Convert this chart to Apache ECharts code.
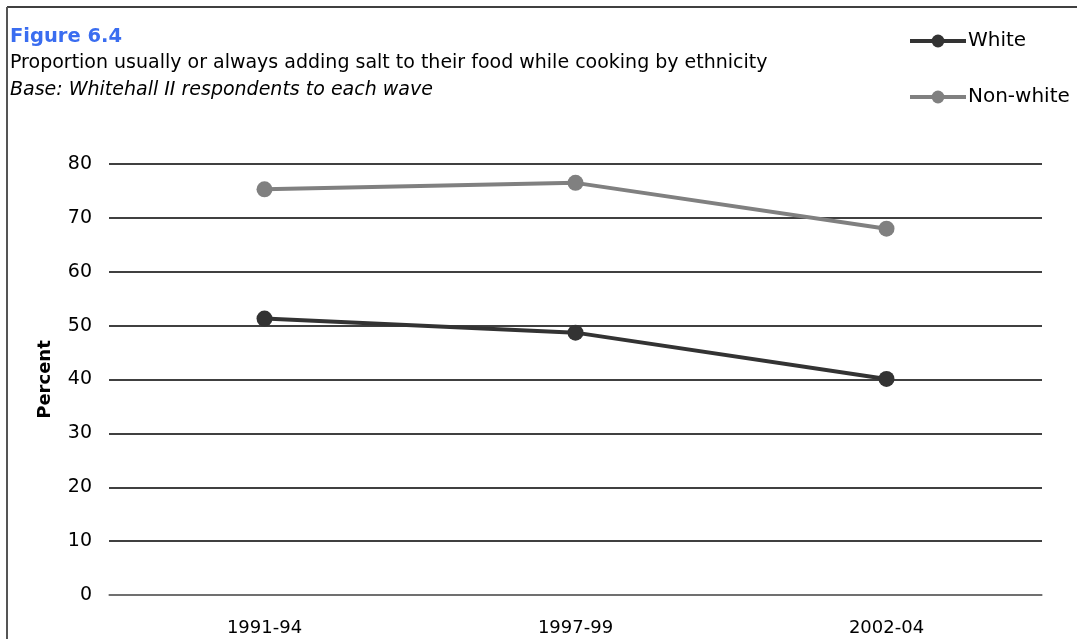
<!DOCTYPE html>
<html>
<head>
<meta charset="utf-8">
<script src="https://cdn.jsdelivr.net/npm/echarts@6/dist/echarts.min.js"></script>
<style>
  html, body { margin: 0; padding: 0; background: #fff; }
  #chart { width: 1077px; height: 639px; }
</style>
</head>
<body>
<div id="chart"></div>
<script>
// Survey waves and the share adding salt while cooking (%)
const waves = ['1991-94', '1997-99', '2002-04'];
const whiteValues = [51.3, 48.7, 40.1];
const nonWhiteValues = [75.3, 76.5, 68.0];
const yTicks = { min: 0, max: 80, step: 10 };

const FONT = 'DejaVu Sans';
const chart = echarts.init(document.getElementById('chart'), null, { renderer: 'canvas' });

chart.setOption({
  backgroundColor: '#ffffff',
  animation: false,
  textStyle: { fontFamily: FONT },
  graphic: [
    // frame edges
    { type: 'line', shape: { x1: 7, y1: 7, x2: 1077, y2: 7 }, style: { stroke: '#000', lineWidth: 1.5 } },
    { type: 'line', shape: { x1: 7, y1: 7, x2: 7, y2: 639 }, style: { stroke: '#555', lineWidth: 2 } },
    { type: 'text', left: 10, top: 27, style: { text: 'Figure 6.4', fill: '#3a6df0', font: 'bold 19.5px "DejaVu Sans"' } },
    { type: 'text', left: 10, top: 54, style: { text: 'Proportion usually or always adding salt to their food while cooking by ethnicity', fill: '#000', font: '19px "DejaVu Sans"' } },
    { type: 'text', left: 10, top: 81, style: { text: 'Base: Whitehall II respondents to each wave', fill: '#000', font: 'italic 19px "DejaVu Sans"' } }
  ],
  legend: {
    orient: 'vertical',
    left: 903,
    top: 26,
    itemWidth: 56,
    itemHeight: 16,
    itemGap: 36,
    lineStyle: { width: 4 },
    itemStyle: { borderWidth: 0 },
    textStyle: { fontFamily: FONT, fontSize: 20, color: '#000', padding: [0, 0, 0, -3] },
    data: ['White', 'Non-white']
  },
  grid: { left: 109, right: 35, top: 164, bottom: 44, containLabel: false },
  xAxis: {
    type: 'category',
    data: waves,
    boundaryGap: true,
    axisLine: { show: true, lineStyle: { color: '#808080', width: 1.5 } },
    axisTick: { show: false },
    axisLabel: { color: '#000', fontSize: 18, fontFamily: FONT, margin: 24 }
  },
  yAxis: {
    type: 'value',
    min: yTicks.min,
    max: yTicks.max,
    interval: yTicks.step,
    name: 'Percent',
    nameLocation: 'middle',
    nameGap: 55,
    nameTextStyle: { color: '#000', fontSize: 18, fontWeight: 'bold', fontFamily: FONT },
    axisLine: { show: false },
    axisTick: { show: false },
    axisLabel: { color: '#000', fontSize: 19, fontFamily: FONT, margin: 17 },
    splitLine: { show: true, lineStyle: { color: '#000', width: 1.5 } }
  },
  series: [
    {
      name: 'White',
      type: 'line',
      data: whiteValues,
      symbol: 'circle',
      symbolSize: 16,
      itemStyle: { color: '#333333' },
      lineStyle: { color: '#333333', width: 4 },
      z: 3
    },
    {
      name: 'Non-white',
      type: 'line',
      data: nonWhiteValues,
      symbol: 'circle',
      symbolSize: 16,
      itemStyle: { color: '#808080' },
      lineStyle: { color: '#808080', width: 4 },
      z: 3
    }
  ]
});
</script>
</body>
</html>
